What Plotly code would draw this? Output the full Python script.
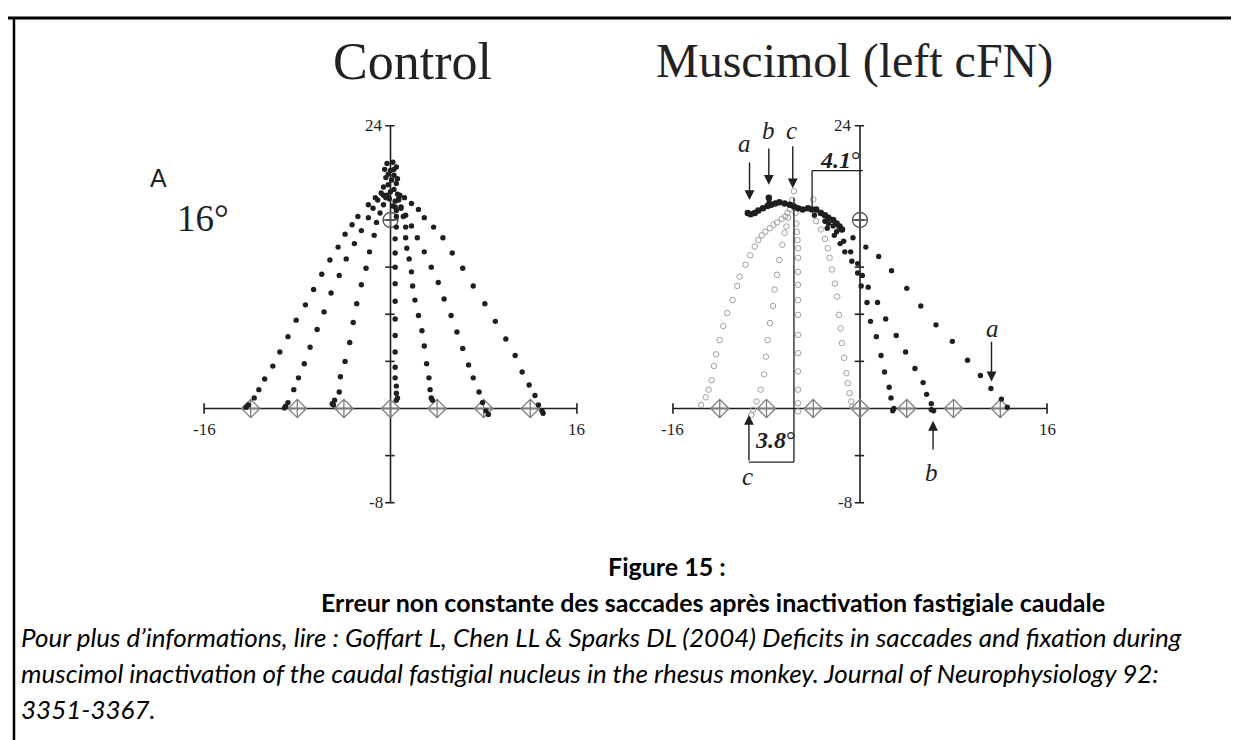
import plotly.graph_objects as go

W, H = 1239, 740

# ---- axes (degrees) ----
AX_X = [-16, 16]
AX_Y = [-8, 24]
Y_TICKS = [-4, 4, 8, 12, 16]
TARGETS_X = [-12, -8, -4, 0, 4, 8, 12]
FIX_X, FIX_Y = [0], [16]

# ---- Control: saccade trajectories (x, y in deg) ----
ctrl_start = [(-0.3, 20.8), (0.2, 20.9), (0.5, 20.5), (-0.5, 20.3), (0.0, 20.2), (0.3, 19.8),
              (-0.4, 19.6), (0.1, 19.4), (0.5, 19.1), (-0.2, 19.0), (0.3, 18.6), (-0.6, 18.8),
              (0.0, 18.4), (0.6, 18.2), (-0.3, 18.1), (0.4, 17.6), (0.2, 17.2), (0.5, 16.8),
              (-0.1, 17.8), (0.3, 20.3), (-0.2, 19.9), (0.6, 19.5)]
ctrl_m12 = [(-0.8, 18.3), (-1.3, 17.9), (-1.9, 17.3), (-2.8, 16.3), (-3.3, 15.6), (-3.9, 14.8),
            (-4.5, 13.7), (-5.2, 12.6), (-5.9, 11.4), (-6.6, 10.1), (-7.3, 8.8), (-8.1, 7.5),
            (-8.8, 6.1), (-9.5, 4.8), (-10.1, 3.6), (-10.8, 2.5), (-11.3, 1.6), (-11.7, 0.9),
            (-12.2, 0.3), (-12.4, 0.1)]
ctrl_m8 = [(-0.6, 18.1), (-1.1, 17.7), (-1.5, 17.0), (-1.9, 16.2), (-2.5, 15.1), (-3.1, 14.0),
           (-3.8, 12.7), (-4.4, 11.3), (-5.1, 9.8), (-5.7, 8.2), (-6.3, 6.7), (-6.9, 5.2),
           (-7.4, 3.8), (-7.9, 2.6), (-8.3, 1.6), (-8.8, 0.5), (-9.0, 0.2), (-9.1, 0.05)]
ctrl_m4 = [(-0.4, 17.9), (-0.6, 17.3), (-0.9, 16.6), (-1.2, 15.8), (-1.4, 14.7), (-1.8, 13.3),
           (-2.1, 11.9), (-2.5, 10.5), (-2.9, 8.9), (-3.2, 7.3), (-3.5, 5.6), (-3.9, 4.0),
           (-4.3, 2.7), (-4.4, 1.4), (-4.8, 0.7), (-4.9, 0.3), (-5.0, 0.4)]
ctrl_0 = [(0.4, 17.1), (0.5, 16.3), (0.5, 15.4), (0.4, 14.4), (0.4, 13.2), (0.4, 12.0),
          (0.4, 10.6), (0.4, 9.1), (0.4, 7.6), (0.4, 6.2), (0.4, 4.8), (0.4, 3.5),
          (0.4, 2.6), (0.5, 1.9), (0.5, 1.3), (0.5, 0.7), (0.6, 0.9)]
ctrl_p4 = [(0.7, 17.7), (0.9, 17.0), (1.1, 16.3), (1.3, 15.4), (1.3, 14.5), (1.4, 13.6),
           (1.6, 12.7), (1.8, 11.6), (1.9, 10.4), (2.1, 9.2), (2.4, 7.9), (2.7, 6.6),
           (2.9, 5.3), (3.1, 3.8), (3.3, 2.6), (3.4, 1.6), (3.6, 0.7), (3.5, 0.9)]
ctrl_p8 = [(0.7, 17.8), (0.9, 17.1), (1.3, 16.4), (1.8, 15.5), (2.3, 14.5), (2.9, 13.3),
           (3.5, 12.0), (4.1, 10.7), (4.6, 9.3), (5.2, 7.9), (5.7, 6.5), (6.2, 5.1),
           (6.7, 3.7), (7.1, 2.6), (7.6, 1.4), (7.9, 0.5), (8.2, -0.2), (8.4, -0.5)]
ctrl_p12 = [(0.8, 18.1), (1.2, 17.9), (1.8, 17.4), (2.4, 16.9), (2.9, 16.2), (3.7, 15.4),
            (4.5, 14.5), (5.3, 13.2), (6.2, 11.9), (7.1, 10.4), (8.1, 8.9), (9.0, 7.4),
            (9.9, 5.9), (10.7, 4.5), (11.3, 3.1), (11.9, 2.0), (12.4, 1.1), (12.7, 0.3),
            (13.0, -0.2), (13.1, -0.4)]

# ---- Muscimol: black (rightward) trajectories ----
musc_arc = [(-9.6, 16.6), (-9.35, 16.5), (-9.0, 16.6), (-8.7, 16.8), (-8.3, 17.0), (-7.9, 17.2),
            (-7.8, 17.9), (-7.6, 17.3), (-7.25, 17.4), (-6.9, 17.5), (-6.45, 17.4), (-6.0, 17.3),
            (-5.65, 17.15), (-5.3, 17.0), (-4.9, 16.9), (-4.45, 17.0), (-4.1, 16.9), (-3.75, 16.9),
            (-3.35, 16.6), (-3.0, 16.4), (-2.7, 16.2), (-2.3, 16.0), (-2.0, 15.7), (-1.75, 15.45),
            (-1.55, 15.2)]
musc_a = [(-3.9, 16.4), (-3.0, 15.9), (-2.3, 15.5), (-1.5, 15.2), (-0.6, 14.5), (0.5, 13.7),
          (1.6, 12.9), (2.7, 11.7), (4.0, 10.2), (5.2, 8.7), (6.5, 7.1), (7.9, 5.7),
          (9.2, 4.1), (10.3, 2.8), (11.2, 1.7), (12.1, 0.8), (12.6, 0.1)]
musc_b = [(-2.7, 15.7), (-2.0, 15.0), (-1.4, 14.2), (-0.8, 13.3), (-0.2, 12.3), (0.2, 11.3),
          (0.7, 10.3), (1.5, 9.0), (2.2, 7.6), (3.1, 6.2), (3.9, 4.8), (4.7, 3.4),
          (5.4, 2.2), (5.7, 1.2), (6.1, 0.4), (6.3, -0.2), (6.1, -0.1)]
musc_p4 = [(-2.8, 15.3), (-2.2, 14.7), (-1.7, 14.0), (-1.3, 13.3), (-0.7, 12.5), (-0.2, 11.5),
           (0.1, 10.4), (0.6, 9.0), (0.9, 7.4), (1.4, 6.1), (1.8, 4.5), (2.1, 3.1),
           (2.5, 1.8), (2.65, 0.9), (2.8, -0.2), (2.9, 0.0)]

# ---- Muscimol: grey (leftward) trajectories ----
musc_apex = [(-5.65, 18.45), (-4.0, 17.75)]
musc_g1 = [(-6.2, 16.6), (-6.4, 16.3), (-6.7, 16.1), (-7.1, 15.8), (-7.4, 15.6), (-7.7, 15.3),
           (-8.1, 15.0), (-8.4, 14.7), (-8.7, 14.3), (-9.0, 13.75), (-9.4, 13.0), (-9.8, 12.2),
           (-10.3, 11.2), (-10.5, 10.4), (-10.9, 9.2), (-11.35, 8.1), (-11.7, 7.0), (-12.0, 5.8),
           (-12.3, 4.6), (-12.5, 3.6), (-12.7, 2.4), (-12.95, 1.6), (-13.2, 0.95), (-13.6, 0.3)]
musc_c = [(-5.8, 17.7), (-6.0, 16.9), (-6.15, 16.2), (-6.3, 15.45), (-6.45, 14.9), (-6.65, 13.9),
          (-6.9, 12.6), (-7.1, 11.35), (-7.3, 10.1), (-7.45, 8.7), (-7.7, 7.25), (-7.9, 5.8),
          (-8.05, 4.4), (-8.2, 2.9), (-8.5, 1.6), (-8.85, 0.6), (-9.15, -0.1), (-9.3, -0.55)]
musc_g3 = [(-5.5, 16.6), (-5.45, 15.7), (-5.4, 15.0), (-5.35, 14.3), (-5.3, 13.6), (-5.3, 12.8),
           (-5.3, 11.6), (-5.3, 10.5), (-5.3, 9.2), (-5.3, 7.95), (-5.3, 6.25), (-5.3, 4.7),
           (-5.3, 3.15), (-5.3, 1.6), (-5.3, 0.45), (-5.3, -0.25)]
musc_g4 = [(-3.75, 15.9), (-3.35, 15.2), (-3.0, 14.4), (-2.75, 13.6), (-2.6, 12.8), (-2.4, 11.8),
           (-2.15, 10.6), (-1.95, 9.5), (-1.8, 7.95), (-1.65, 6.8), (-1.55, 5.55), (-1.35, 4.3),
           (-1.15, 3.0), (-1.05, 2.15), (-0.9, 1.3), (-0.75, 0.6), (-0.65, 0.15)]

# ---- pixel geometry of the two panels ----
X_RANGE = [-20, 20]
Y_RANGE = [-10, 26]
SY, Y0 = 11.78, 400.5
PANELS = [(382.5, 11.65), (852.0, 11.69)]

INK = "#1f1f1f"
GREY = "#a0a0a0"
SERIF = "Liberation Serif, Times New Roman, serif"


def dom_x(cx, sx):
    return [(cx + sx * X_RANGE[0]) / W, (cx + sx * X_RANGE[1]) / W]


def dom_y():
    return [1 - (Y0 - SY * Y_RANGE[0]) / H, 1 - (Y0 - SY * Y_RANGE[1]) / H]


def pts(track):
    return [p[0] for p in track], [p[1] for p in track]


fig = go.Figure()


def dots(track, xa, ya, size=5.4, color=INK, symbol="circle", lw=0):
    x, y = pts(track)
    fig.add_trace(go.Scatter(x=x, y=y, mode="markers", xaxis=xa, yaxis=ya, cliponaxis=False,
                             marker=dict(size=size, color=color, symbol=symbol,
                                         line=dict(width=lw, color=color)),
                             showlegend=False, hoverinfo="skip"))


shapes, annos = [], []

for i, (cx, sx) in enumerate(PANELS):
    xa = "x" if i == 0 else "x2"
    ya = "y" if i == 0 else "y2"
    line = dict(color=INK, width=1.6)
    shapes.append(dict(type="line", xref=xa, yref=ya, x0=AX_X[0], x1=AX_X[1], y0=0, y1=0,
                       line=line, layer="below"))
    shapes.append(dict(type="line", xref=xa, yref=ya, x0=0, x1=0, y0=AX_Y[0], y1=AX_Y[1],
                       line=line, layer="below"))
    for xe in AX_X:
        shapes.append(dict(type="line", xref=xa, yref=ya, x0=xe, x1=xe, y0=-0.45, y1=0.45,
                           line=line, layer="below"))
    for yt in Y_TICKS + AX_Y:
        shapes.append(dict(type="line", xref=xa, yref=ya, x0=-0.45, x1=0.35, y0=yt, y1=yt,
                           line=line, layer="below"))
    # tick labels
    tfont = dict(family=SERIF, size=17, color=INK)
    annos += [
        dict(x=AX_X[0], y=-1.8, xref=xa, yref=ya, text="-16", showarrow=False, font=tfont),
        dict(x=AX_X[1], y=-1.8, xref=xa, yref=ya, text="16", showarrow=False, font=tfont),
        dict(x=-0.5, y=AX_Y[0], xref=xa, yref=ya, text="-8", showarrow=False, font=tfont,
             xanchor="right"),
        dict(x=-0.5, y=AX_Y[1], xref=xa, yref=ya, text="24", showarrow=False, font=tfont,
             xanchor="right"),
    ]
    # targets on horizontal meridian and fixation target
    dots([(t, 0) for t in TARGETS_X], xa, ya, size=14, color="#7d7d7d",
         symbol="diamond-cross-open", lw=1.3)
    dots(list(zip(FIX_X, FIX_Y)), xa, ya, size=15, color="#555555",
         symbol="circle-cross-open", lw=1.3)

# control panel
for tr in [ctrl_start, ctrl_m12, ctrl_m8, ctrl_m4, ctrl_0, ctrl_p4, ctrl_p8, ctrl_p12]:
    dots(tr, "x", "y")

# muscimol panel
for tr in [musc_g1, musc_c, musc_g3, musc_g4, musc_apex]:
    dots(tr, "x2", "y2", size=5.5, color=GREY, symbol="circle-open", lw=1)
ax_, ay_ = pts(musc_arc)
fig.add_trace(go.Scatter(x=ax_, y=ay_, mode="lines+markers", xaxis="x2", yaxis="y2",
                         line=dict(color=INK, width=3.5, shape="spline"),
                         marker=dict(size=6.5, color=INK), showlegend=False, hoverinfo="skip"))
for tr in [musc_a, musc_b, musc_p4]:
    dots(tr, "x2", "y2")

# measurement brackets (muscimol)
ln = dict(color=INK, width=1.3)
shapes += [
    dict(type="line", xref="x2", yref="y2", x0=-4.1, x1=0.25, y0=20.2, y1=20.2, line=ln),
    dict(type="line", xref="x2", yref="y2", x0=-4.1, x1=-4.1, y0=20.2, y1=17.0, line=ln),
    dict(type="line", xref="x2", yref="y2", x0=-9.5, x1=-5.65, y0=-4.55, y1=-4.55, line=ln),
    dict(type="line", xref="x2", yref="y2", x0=-5.65, x1=-5.65, y0=-4.55, y1=17.9, line=ln),
]


def arrow(x, y, ax, ay):
    return dict(x=x, y=y, ax=ax, ay=ay, xref="x2", yref="y2", axref="x2", ayref="y2",
                text="", showarrow=True, arrowhead=2, arrowsize=1.4, arrowwidth=1.4,
                arrowcolor=INK)


annos += [
    arrow(-9.45, 17.7, -9.45, 21.0),
    arrow(-7.8, 19.0, -7.8, 22.2),
    arrow(-5.75, 18.7, -5.75, 22.4),
    arrow(11.25, 2.3, 11.25, 5.8),
    arrow(6.25, -1.05, 6.25, -3.6),
    arrow(-9.5, -0.55, -9.5, -4.55),
]
lfont = dict(family=SERIF, size=25, color=INK)
for txt, x, y in [("a", -9.85, 22.5), ("b", -7.85, 23.6), ("c", -5.85, 23.6),
                  ("a", 11.35, 6.8), ("b", 6.15, -5.4), ("c", -9.65, -5.8)]:
    annos.append(dict(x=x, y=y, xref="x2", yref="y2", text="<i>%s</i>" % txt,
                      showarrow=False, font=lfont))
annos += [
    dict(x=-1.7, y=21.1, xref="x2", yref="y2", text="<b><i>4.1</i></b>°", showarrow=False,
         font=dict(family=SERIF, size=24, color=INK)),
    dict(x=-7.2, y=-2.7, xref="x2", yref="y2", text="<b><i>3.8</i></b>°", showarrow=False,
         font=dict(family=SERIF, size=24, color=INK)),
]

# titles and panel labels (paper coords from pixels)


def pa(text, px, py, size, family=SERIF, xanchor="center", color="#222222"):
    return dict(x=px / W, y=1 - py / H, xref="paper", yref="paper", text=text,
                showarrow=False, xanchor=xanchor, yanchor="middle",
                font=dict(family=family, size=size, color=color))


CAP = "Lato, Calibri, sans-serif"
annos += [
    pa("Control", 404, 53, 52),
    pa("Muscimol (left cFN)", 846, 53, 48),
    pa("A", 150, 170, 25, family="Liberation Sans, Arial"),
    pa("16°", 195, 210, 37),
    pa("<b>Figure 15 :</b>", 598, 558, 25, family=CAP, xanchor="left", color="#000000"),
    pa("<b>Erreur non constante des saccades après inactivation fastigiale caudale</b>",
       705, 594, 25, family=CAP, color="#000000"),
    pa("<i>Pour plus d’informations, lire : Goffart L, Chen LL &amp; Sparks DL (2004) Deficits "
       "in saccades and fixation during</i>", 11, 629, 26, family=CAP, xanchor="left",
       color="#000000"),
    pa("<i>muscimol inactivation of the caudal fastigial nucleus in the rhesus monkey. Journal "
       "of Neurophysiology 92:</i>", 11, 665, 26, family=CAP, xanchor="left", color="#000000"),
    pa("<i>3351-3367.</i>", 11, 701, 26, family=CAP, xanchor="left", color="#000000"),
]

# page border (top and left edges)
shapes += [
    dict(type="line", xref="paper", yref="paper", x0=0, x1=1, y0=1 - 10 / H, y1=1 - 10 / H,
         line=dict(color="#000000", width=3)),
    dict(type="line", xref="paper", yref="paper", x0=6 / W, x1=6 / W, y0=0, y1=1 - 10 / H,
         line=dict(color="#000000", width=2.5)),
]

ax_common = dict(visible=False, showgrid=False, zeroline=False, fixedrange=True)
fig.update_layout(
    width=W, height=H, autosize=False,
    margin=dict(l=0, r=0, t=0, b=0),
    paper_bgcolor="white", plot_bgcolor="white",
    xaxis=dict(domain=dom_x(*PANELS[0]), range=X_RANGE, anchor="y", **ax_common),
    yaxis=dict(domain=dom_y(), range=Y_RANGE, anchor="x", **ax_common),
    xaxis2=dict(domain=dom_x(*PANELS[1]), range=X_RANGE, anchor="y2", **ax_common),
    yaxis2=dict(domain=dom_y(), range=Y_RANGE, anchor="x2", **ax_common),
    shapes=shapes, annotations=annos, showlegend=False,
)

fig.write_html("out.html")
